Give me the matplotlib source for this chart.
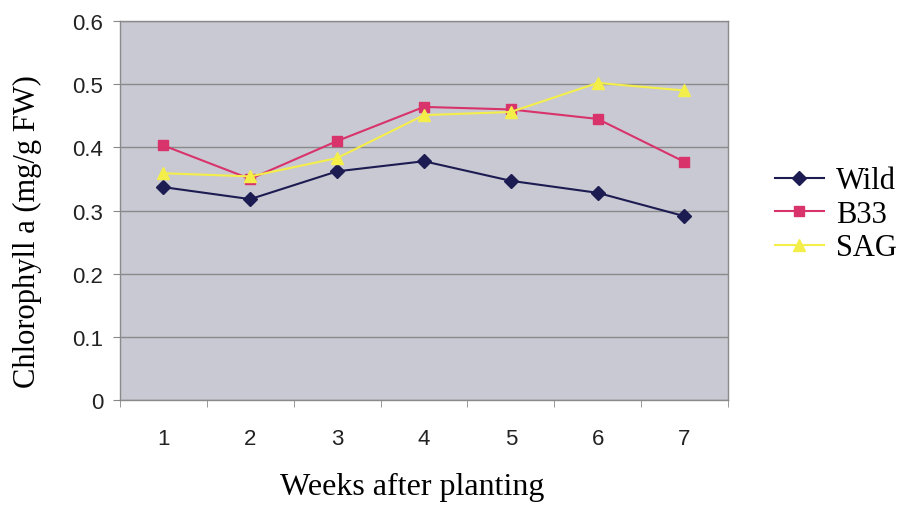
import matplotlib
matplotlib.use("Agg")
import matplotlib.pyplot as plt
from matplotlib.ticker import FixedLocator

weeks = [1, 2, 3, 4, 5, 6, 7]
wild = [0.337, 0.318, 0.362, 0.378, 0.347, 0.328, 0.291]
b33 = [0.403, 0.350, 0.410, 0.464, 0.460, 0.445, 0.377]
sag = [0.359, 0.354, 0.383, 0.451, 0.456, 0.502, 0.490]
y_ticks = [0, 0.1, 0.2, 0.3, 0.4, 0.5, 0.6]
y_labels = ["0", "0.1", "0.2", "0.3", "0.4", "0.5", "0.6"]

fig = plt.figure(figsize=(9.02, 5.06), dpi=100)
ax = fig.add_axes([0.133, 0.2075, 0.674, 0.7490])
ax.set_facecolor("#c9c9d3")

ax.plot(weeks, wild, color="#1c1c52", marker="D", markersize=7, lw=1.5, label="Wild", zorder=3)
ax.plot(weeks, b33, color="#d8336b", marker="s", markersize=7.5, lw=1.5, label="B33", zorder=3)
ax.plot(weeks, sag, color="#f4ee4a", marker="^", markersize=9, lw=1.5, label="SAG", zorder=3)

ax.set_xlim(0.5, 7.5)
ax.set_ylim(0, 0.6)
ax.set_yticks(y_ticks)
ax.set_yticklabels(y_labels)
ax.set_xticks(weeks)
ax.xaxis.set_minor_locator(FixedLocator([0.5 + i for i in range(8)]))
ax.tick_params(axis="x", which="major", length=0, pad=20)
ax.tick_params(axis="x", which="minor", length=5, color="#888888")
ax.tick_params(axis="y", length=5, color="#888888", pad=7)
for lab in ax.get_xticklabels() + ax.get_yticklabels():
    lab.set_fontfamily("Liberation Sans")
    lab.set_fontsize(16)
    lab.set_color("#222222")

ax.grid(axis="y", color="#8a8a8a", lw=1)
ax.set_axisbelow(True)
for s in ax.spines.values():
    s.set_color("#8a8a8a")
    s.set_linewidth(1)

ax.set_xlabel("Weeks after planting", fontfamily="Liberation Serif", fontsize=23, va="center")
ax.xaxis.set_label_coords(0.48, -0.227)
ax.set_ylabel("Chlorophyll a (mg/g FW)", fontfamily="Liberation Serif", fontsize=22, va="center")
ax.yaxis.set_label_coords(-0.152, 0.446)

leg = ax.legend(loc="center left", bbox_to_anchor=(1.057, 0.49), frameon=False,
                prop={"family": "Liberation Serif", "size": 22}, handlelength=1.6,
                handletextpad=0.4, labelspacing=0.15, borderaxespad=0)

fig.savefig("out.png", dpi=100, facecolor="white")
